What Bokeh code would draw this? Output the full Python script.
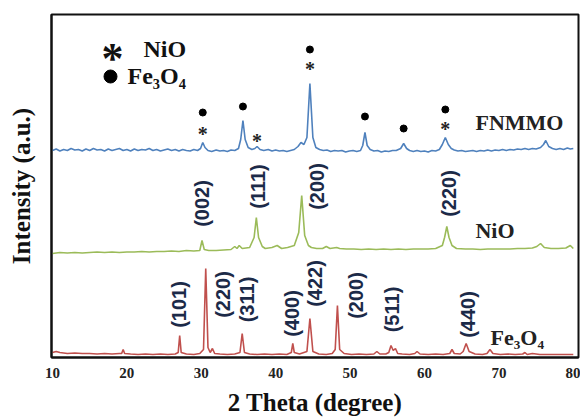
import math
from bokeh.plotting import figure
from bokeh.models import Range1d, FixedTicker
from bokeh.core.properties import value
from bokeh.embed import file_html
from bokeh.resources import INLINE

# ---------------- data ----------------
two_theta_fe = [10.0, 10.5, 11, 12, 13, 14, 15, 16, 17, 18, 19, 19.3, 19.5, 19.7, 20.5, 21.5, 22.5, 23.5,
                24.5, 25.5, 26.5, 26.9, 27.1, 27.3, 28, 29, 29.8, 30.3, 30.6, 30.9, 31.2, 31.5, 31.8, 32.5,
                33.5, 34.5, 35.2, 35.5, 35.8, 36.5, 37.5, 38.5, 39.5, 40.5, 41.5, 42.1, 42.3, 42.5, 43.2,
                44.2, 44.6, 45.0, 45.8, 46.8, 47.6, 48.0, 48.3, 48.6, 49.2, 50.2, 51.2, 52.2, 53.2, 53.6,
                54.0, 54.8, 55.2, 55.5, 55.8, 56.1, 56.4, 57.0, 58.0, 58.7, 59.0, 59.4, 60.5, 61.5, 62.5,
                63.4, 63.7, 64.0, 64.8, 65.2, 65.6, 66.0, 66.8, 67.8, 68.4, 68.8, 69.2, 70.2, 71.2, 72.2,
                73.2, 73.5, 73.8, 74.5, 75.5, 76.5, 77.5, 78.5, 79.5, 80.0]
intensity_fe = [5, 6, 5, 4, 4.5, 4, 4, 3.5, 4, 3.5, 4, 4, 8, 4, 3.5, 3, 3.5, 3,
                3.5, 3, 3.5, 5, 22, 5, 3.5, 3, 4, 8, 89, 10, 5, 9, 4, 3.5,
                3, 3.5, 5, 24, 5, 3.5, 3, 3.5, 3, 3.5, 3, 5, 14, 5, 3.5,
                6, 39, 6, 3.5, 3, 4, 8, 52, 8, 4, 3, 3.5, 3, 3.5, 6,
                3.5, 3.5, 5, 12, 7, 9, 4, 3.5, 3, 4, 6, 3.5, 3, 3.5, 3,
                4, 8, 4, 3.5, 6, 14, 6, 3.5, 3, 4, 8, 4, 3, 3.5, 3,
                3.5, 5, 3, 4, 3, 3, 3, 3, 3, 3]

two_theta_nio = [10, 11, 12, 13, 14, 15, 16, 17, 18, 19, 20, 21, 22, 23, 24, 25, 26, 27, 28, 29, 29.8,
                 30.1, 30.4, 31, 32, 33, 34, 34.5, 34.8, 35.1, 35.5, 36.5, 37.1, 37.4, 37.7, 38.2, 38.6,
                 39.5, 40.2, 40.8, 41.6, 42.5, 43.1, 43.5, 43.9, 44.4, 44.8, 45.5, 46.3, 46.8, 47.3, 48.2,
                 48.6, 49.5, 50.5, 51.5, 52.5, 53.5, 54.5, 55.5, 56.5, 57.5, 58.5, 59.5, 60.5, 61.5, 62.4,
                 62.7, 63.0, 63.3, 63.7, 64.3, 65.5, 66.5, 67.5, 68.5, 69.5, 70.5, 71.5, 72.5, 73.5, 74.5,
                 75.1, 75.6, 76.1, 77, 78, 79, 79.6, 80]
intensity_nio = [4, 5, 4.5, 5, 4.5, 5, 5.5, 5, 5.5, 5, 5.5, 5.5, 6, 5.5, 6, 6, 6.5, 6, 7, 6.5, 7,
                 17, 8, 7, 7, 7.5, 8, 11, 9, 12, 9, 10, 20, 40, 20, 11, 9,
                 10, 12, 9, 10, 12, 25, 62, 22, 12, 10, 9, 9, 11, 9, 10,
                 9, 8.5, 8.5, 8, 8.5, 8, 8.5, 8, 8.5, 8, 8.5, 8.5, 8.5, 9, 12,
                 20, 31, 20, 12, 9, 8.5, 8.5, 8, 8.5, 8.5, 8.5, 8.5, 9, 9, 9.5,
                 11, 14, 10, 9, 9, 9.5, 12, 9]

two_theta_fnmmo = [10.0, 10.5, 11.0, 11.5, 12.0, 12.5, 13.0, 13.5, 14.0, 14.5, 15.0, 15.5, 16.0, 16.5,
                   17.0, 17.5, 18.0, 18.5, 19.0, 19.5, 20.0, 20.5, 21.0, 21.5, 22.0, 22.5, 23.0, 23.5,
                   24.0, 24.5, 25.0, 25.5, 26.0, 26.5, 27.0, 27.5, 28.0, 28.5, 29.0, 29.5, 29.9, 30.2,
                   30.5, 30.9, 31.4, 32.0, 32.5, 33.0, 33.5, 34.0, 34.5, 35.0, 35.3, 35.6, 35.9, 36.3,
                   36.8, 37.2, 37.5, 37.9, 38.4, 39.0, 39.5, 40.0, 40.5, 41.0, 41.5, 42.0, 42.5, 43.0,
                   43.4, 43.8, 44.2, 44.6, 45.0, 45.4, 45.9, 46.4, 46.9, 47.4, 47.9, 48.4, 48.9, 49.4,
                   49.9, 50.4, 50.9, 51.4, 51.7, 52.0, 52.3, 52.7, 53.2, 53.7, 54.2, 54.7, 55.2, 55.7,
                   56.2, 56.8, 57.2, 57.6, 58.0, 58.5, 59.0, 59.5, 60.0, 60.5, 61.0, 61.5, 62.0, 62.4,
                   62.8, 63.2, 63.6, 64.0, 64.5, 65.0, 65.5, 66.0, 66.5, 67.0, 67.5, 68.0, 68.5, 69.0,
                   69.5, 70.0, 70.5, 71.0, 71.5, 72.0, 72.5, 73.0, 73.5, 74.0, 74.5, 75.0, 75.6, 76.0,
                   76.3, 76.7, 77.2, 77.7, 78.2, 78.7, 79.2, 79.6, 80.0]
intensity_fnmmo = [7, 8.5, 6.5, 8, 7, 9, 7.5, 8, 6.5, 8.5, 7, 9, 7.5, 8,
                   6.5, 8.5, 7, 8, 9, 7, 8, 6.5, 8.5, 7, 8, 7.5, 9, 7,
                   8, 6.5, 7.5, 8.5, 7, 8, 6.5, 8, 7, 6.5, 8, 7, 9, 15,
                   10, 7, 6, 7.5, 6.5, 7, 6, 7.5, 7, 9, 18, 37, 18, 10,
                   8, 9, 11, 8, 7, 8, 6.5, 7.5, 6.5, 7, 6, 7, 8, 11,
                   15, 13, 20, 74, 20, 10, 8, 7, 7.5, 6, 7, 6.5, 7, 5.5,
                   6.5, 7, 6, 7, 12, 25, 12, 8, 6.5, 7, 5.5, 6.5, 6, 7,
                   7, 9, 14, 9, 7, 6, 7, 6, 6.5, 5.5, 7, 6.5, 8, 13,
                   20, 13, 9, 7.5, 6.5, 7, 6, 6.5, 7, 6, 7, 6.5, 7.5, 6.5,
                   7.5, 7, 8, 7, 8, 7.5, 8.5, 8, 9, 8, 9, 8.5, 10, 13,
                   17, 11, 9, 8, 9, 8, 9.5, 8.5, 9]

# vertical stacking of the three patterns (a.u.)
OFFSET_FE = 0
OFFSET_NIO = 100
OFFSET_FNMMO = 200

# phase markers above the FNMMO peaks
fe3o4_mark_2theta = [30.2, 35.6, 44.6, 52.0, 57.2, 62.8]
fe3o4_mark_y = [245, 251, 308, 241, 229, 248]
nio_mark_2theta = [30.2, 37.5, 44.6, 62.8]
nio_mark_y = [229, 222, 294, 234]

# Miller indices
nio_hkl = ["(002)", "(111)", "(200)", "(220)"]
nio_hkl_2theta = [30.16, 37.69, 45.62, 63.36]
nio_hkl_y = [154, 171, 171, 164]
fe_hkl = ["(101)", "(220)", "(311)", "(400)", "(422)", "(200)", "(511)", "(440)"]
fe_hkl_2theta = [27.07, 32.98, 36.21, 42.26, 45.22, 50.73, 55.70, 65.91]
fe_hkl_y = [53, 63, 58, 44, 74, 62, 48, 43]

x_ticks = [10, 20, 30, 40, 50, 60, 70, 80]

BLUE = "#4f81bd"
GREEN = "#9bbb59"
RED = "#c0504d"
HKL_COLOR = "#1c2a48"
SERIF_NAME = "Liberation Serif"
SERIF = value(SERIF_NAME)
SANS = value("Liberation Sans")

p = figure(width=580, height=419, output_backend="svg", toolbar_location=None,
           x_range=Range1d(9.87, 80.7), y_range=Range1d(0, 343),
           min_border_left=51, min_border_right=2, min_border_top=14, min_border_bottom=62)
p.grid.visible = False
p.background_fill_color = "white"
p.border_fill_color = "white"
p.outline_line_color = "#111111"
p.outline_line_width = 2

# x axis
xa = p.xaxis[0]
xa.ticker = FixedTicker(ticks=x_ticks)
xa.major_tick_out = 0
xa.major_tick_in = 0
xa.minor_tick_out = 0
xa.minor_tick_in = 0
xa.axis_line_color = "#111111"
xa.axis_line_width = 2
xa.major_label_text_font = SERIF_NAME
xa.major_label_text_font_style = "bold"
xa.major_label_text_font_size = "15px"
xa.major_label_text_color = "#222222"
xa.major_label_standoff = 10
xa.axis_label = "2 Theta (degree)"
xa.axis_label_text_font = SERIF_NAME
xa.axis_label_text_font_style = "bold"
xa.axis_label_text_font_size = "25px"
xa.axis_label_text_color = "#111111"
xa.axis_label_standoff = 8

# y axis (no ticks)
ya = p.yaxis[0]
ya.ticker = FixedTicker(ticks=[])
ya.major_tick_out = 0
ya.major_tick_in = 0
ya.minor_tick_out = 0
ya.minor_tick_in = 0
ya.major_label_standoff = 0
ya.major_label_text_font_size = "0px"
ya.axis_line_color = "#111111"
ya.axis_line_width = 2
ya.axis_label = "Intensity (a.u.)"
ya.axis_label_text_font = SERIF_NAME
ya.axis_label_text_font_style = "bold"
ya.axis_label_text_font_size = "25px"
ya.axis_label_text_color = "#111111"
ya.axis_label_standoff = 17

# patterns
p.line(two_theta_fe, [v + OFFSET_FE for v in intensity_fe], line_color=RED, line_width=1.6)
p.line(two_theta_nio, [v + OFFSET_NIO for v in intensity_nio], line_color=GREEN, line_width=1.6)
p.line(two_theta_fnmmo, [v + OFFSET_FNMMO for v in intensity_fnmmo], line_color=BLUE, line_width=1.6)

# phase markers
p.scatter(fe3o4_mark_2theta, fe3o4_mark_y, marker="circle", size=7, fill_color="black", line_color="black")
p.text(nio_mark_2theta, nio_mark_y, text=["*"] * len(nio_mark_2theta), text_font=SERIF,
       text_font_style="bold", text_font_size="20px", text_color="#222222",
       text_align="center", text_baseline="middle", y_offset=5)

# Miller indices (rotated)
p.text(nio_hkl_2theta, nio_hkl_y, text=nio_hkl, angle=math.pi / 2, text_font=SANS,
       text_font_style="bold", text_font_size="20px", text_color=HKL_COLOR,
       text_align="center", text_baseline="middle")
p.text(fe_hkl_2theta, fe_hkl_y, text=fe_hkl, angle=math.pi / 2, text_font=SANS,
       text_font_style="bold", text_font_size="20px", text_color=HKL_COLOR,
       text_align="center", text_baseline="middle")

# series names
p.text([66.85, 66.85, 68.87], [235, 127, 20], text=["FNMMO", "NiO", "Fe₃O₄"], text_font=SERIF,
       text_font_style="bold", text_font_size="22px", text_color="#222222",
       text_align="left", text_baseline="middle")

# legend (drawn by hand, as in the figure)
p.text([18.06], [310], text=["*"], text_font=SERIF, text_font_style="bold", text_font_size="44px",
       text_color="#111111", text_align="center", text_baseline="middle", y_offset=11)
p.text([22.23], [309], text=["NiO"], text_font=SERIF, text_font_style="bold", text_font_size="24px",
       text_color="#111111", text_align="left", text_baseline="middle")
p.scatter([17.8], [281], marker="circle", size=13, fill_color="black", line_color="black")
p.text([20.08], [282], text=["Fe₃O₄"], text_font=SERIF, text_font_style="bold", text_font_size="24px",
       text_color="#111111", text_align="left", text_baseline="middle")

open("out.html", "w").write(file_html(p, INLINE))
